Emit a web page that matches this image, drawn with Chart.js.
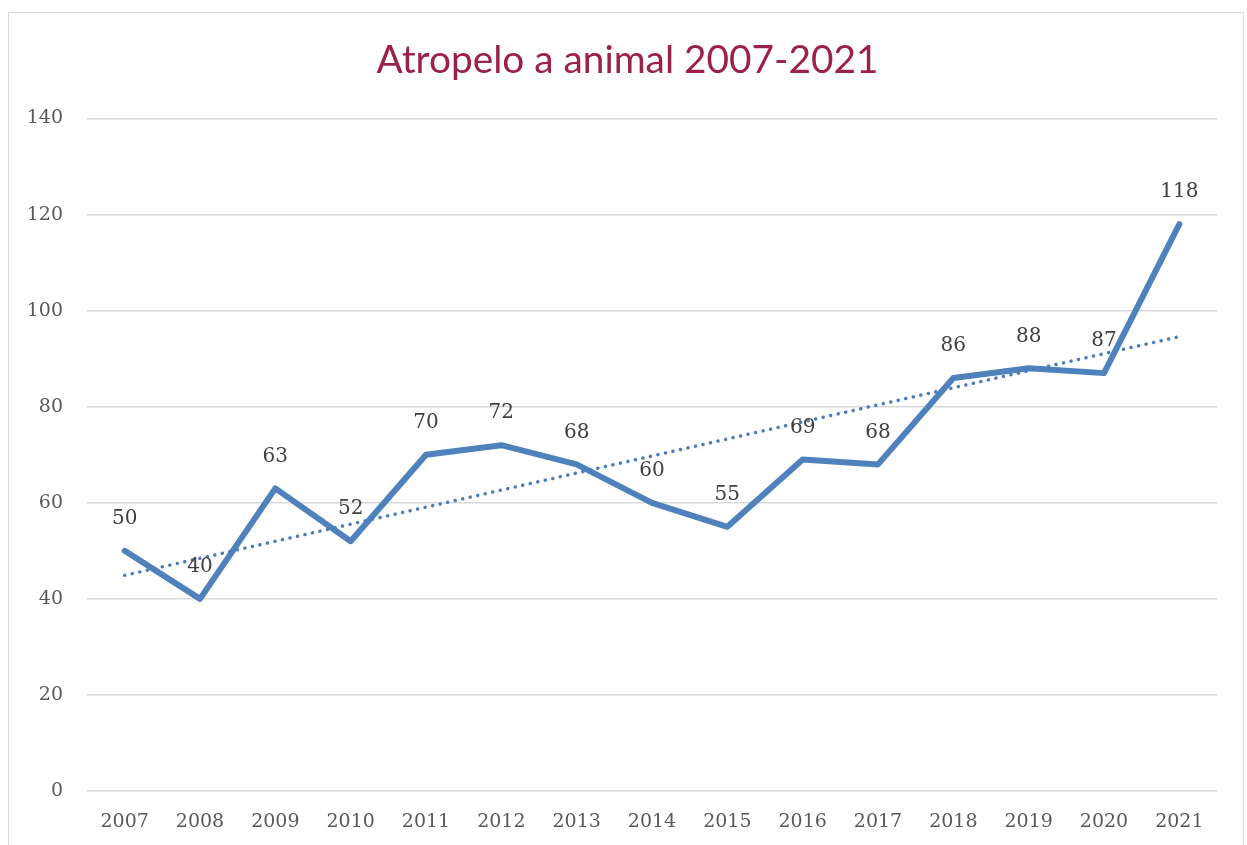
<!DOCTYPE html>
<html>
<head>
<meta charset="utf-8">
<script src="https://cdn.jsdelivr.net/npm/chart.js@4.4.1/dist/chart.umd.min.js"></script>
<style>
    html, body { margin: 0; padding: 0; background: #fff; }
    #frame {
        position: absolute; left: 8px; top: 12px; width: 1234px; height: 840px;
        border: 1px solid #d9d9d9; border-bottom: none;
    }
    #wrap { position: absolute; left: 0; top: 0; width: 1247px; height: 845px; }
</style>
</head>
<body>
<div id="frame"></div>
<div id="wrap"><canvas id="trendChart"></canvas></div>
<script>
const years = ['2007', '2008', '2009', '2010', '2011', '2012', '2013', '2014',
    '2015', '2016', '2017', '2018', '2019', '2020', '2021'];
const atropelos = [50, 40, 63, 52, 70, 72, 68, 60, 55, 69, 68, 86, 88, 87, 118];
// trend line: value at first and last year
const trendEnds = [44.9, 94.6];
const yTicks = [0, 20, 40, 60, 80, 100, 120, 140];

const trendData = years.map(function (y, i) {
    if (i === 0) return trendEnds[0];
    if (i === years.length - 1) return trendEnds[1];
    return null;
});

const serif = '"DejaVu Serif", serif';

// numbers above each point of the main series
const valueLabels = {
    id: 'valueLabels',
    afterLayout: function (chart) {
        // centre the title over the framed area, not the whole canvas
        if (chart.titleBlock) chart.titleBlock.left = 38;
    },
    afterDatasetsDraw: function (chart) {
        const ctx = chart.ctx;
        const meta = chart.getDatasetMeta(1);
        ctx.save();
        ctx.font = '20px ' + serif;
        ctx.fillStyle = '#404040';
        ctx.textAlign = 'center';
        ctx.textBaseline = 'middle';
        meta.data.forEach(function (pt, i) {
            ctx.fillText(atropelos[i], pt.x, pt.y - 32);
        });
        ctx.restore();
    }
};

const ctx = document.getElementById('trendChart');

new Chart(ctx, {
    type: 'line',
    data: {
        labels: years,
        datasets: [{
            label: 'Tendencia',
            data: trendData,
            spanGaps: true,
            borderColor: '#4a7ebb',
            borderWidth: 3.5,
            borderDash: [0.1, 7.6],
            borderCapStyle: 'round',
            pointRadius: 0,
            order: 0
        }, {
            label: 'Atropelo a animal',
            data: atropelos,
            borderColor: '#4f81bd',
            borderWidth: 6,
            borderJoinStyle: 'round',
            borderCapStyle: 'round',
            pointRadius: 0,
            tension: 0,
            order: 1
        }]
    },
    options: {
        responsive: true,
        maintainAspectRatio: false,
        animation: false,
        layout: {
            padding: { top: 12, right: 30, bottom: 0, left: 0 }
        },
        plugins: {
            legend: { display: false },
            tooltip: { enabled: false },
            title: {
                display: true,
                text: 'Atropelo a animal 2007-2021',
                color: '#9b2246',
                font: { family: 'Lato, sans-serif', size: 38.8, weight: 'normal' },
                padding: { top: 25, bottom: 35 }
            }
        },
        scales: {
            x: {
                offset: true,
                afterFit: function (scale) { scale.height = 54; },
                grid: { display: false, drawTicks: false },
                border: { display: false },
                ticks: {
                    color: '#595959',
                    font: { family: serif, size: 19 },
                    padding: 20,
                    maxRotation: 0
                }
            },
            y: {
                min: 0,
                max: 140,
                afterFit: function (scale) { scale.width = 87; },
                afterBuildTicks: function (scale) {
                    scale.ticks = yTicks.map(function (v) { return { value: v }; });
                },
                grid: { color: '#d9d9d9', lineWidth: 1.5, drawTicks: false },
                border: { display: false },
                ticks: {
                    color: '#595959',
                    font: { family: serif, size: 19 },
                    padding: 24
                }
            }
        }
    },
    plugins: [valueLabels]
});
</script>
</body>
</html>
